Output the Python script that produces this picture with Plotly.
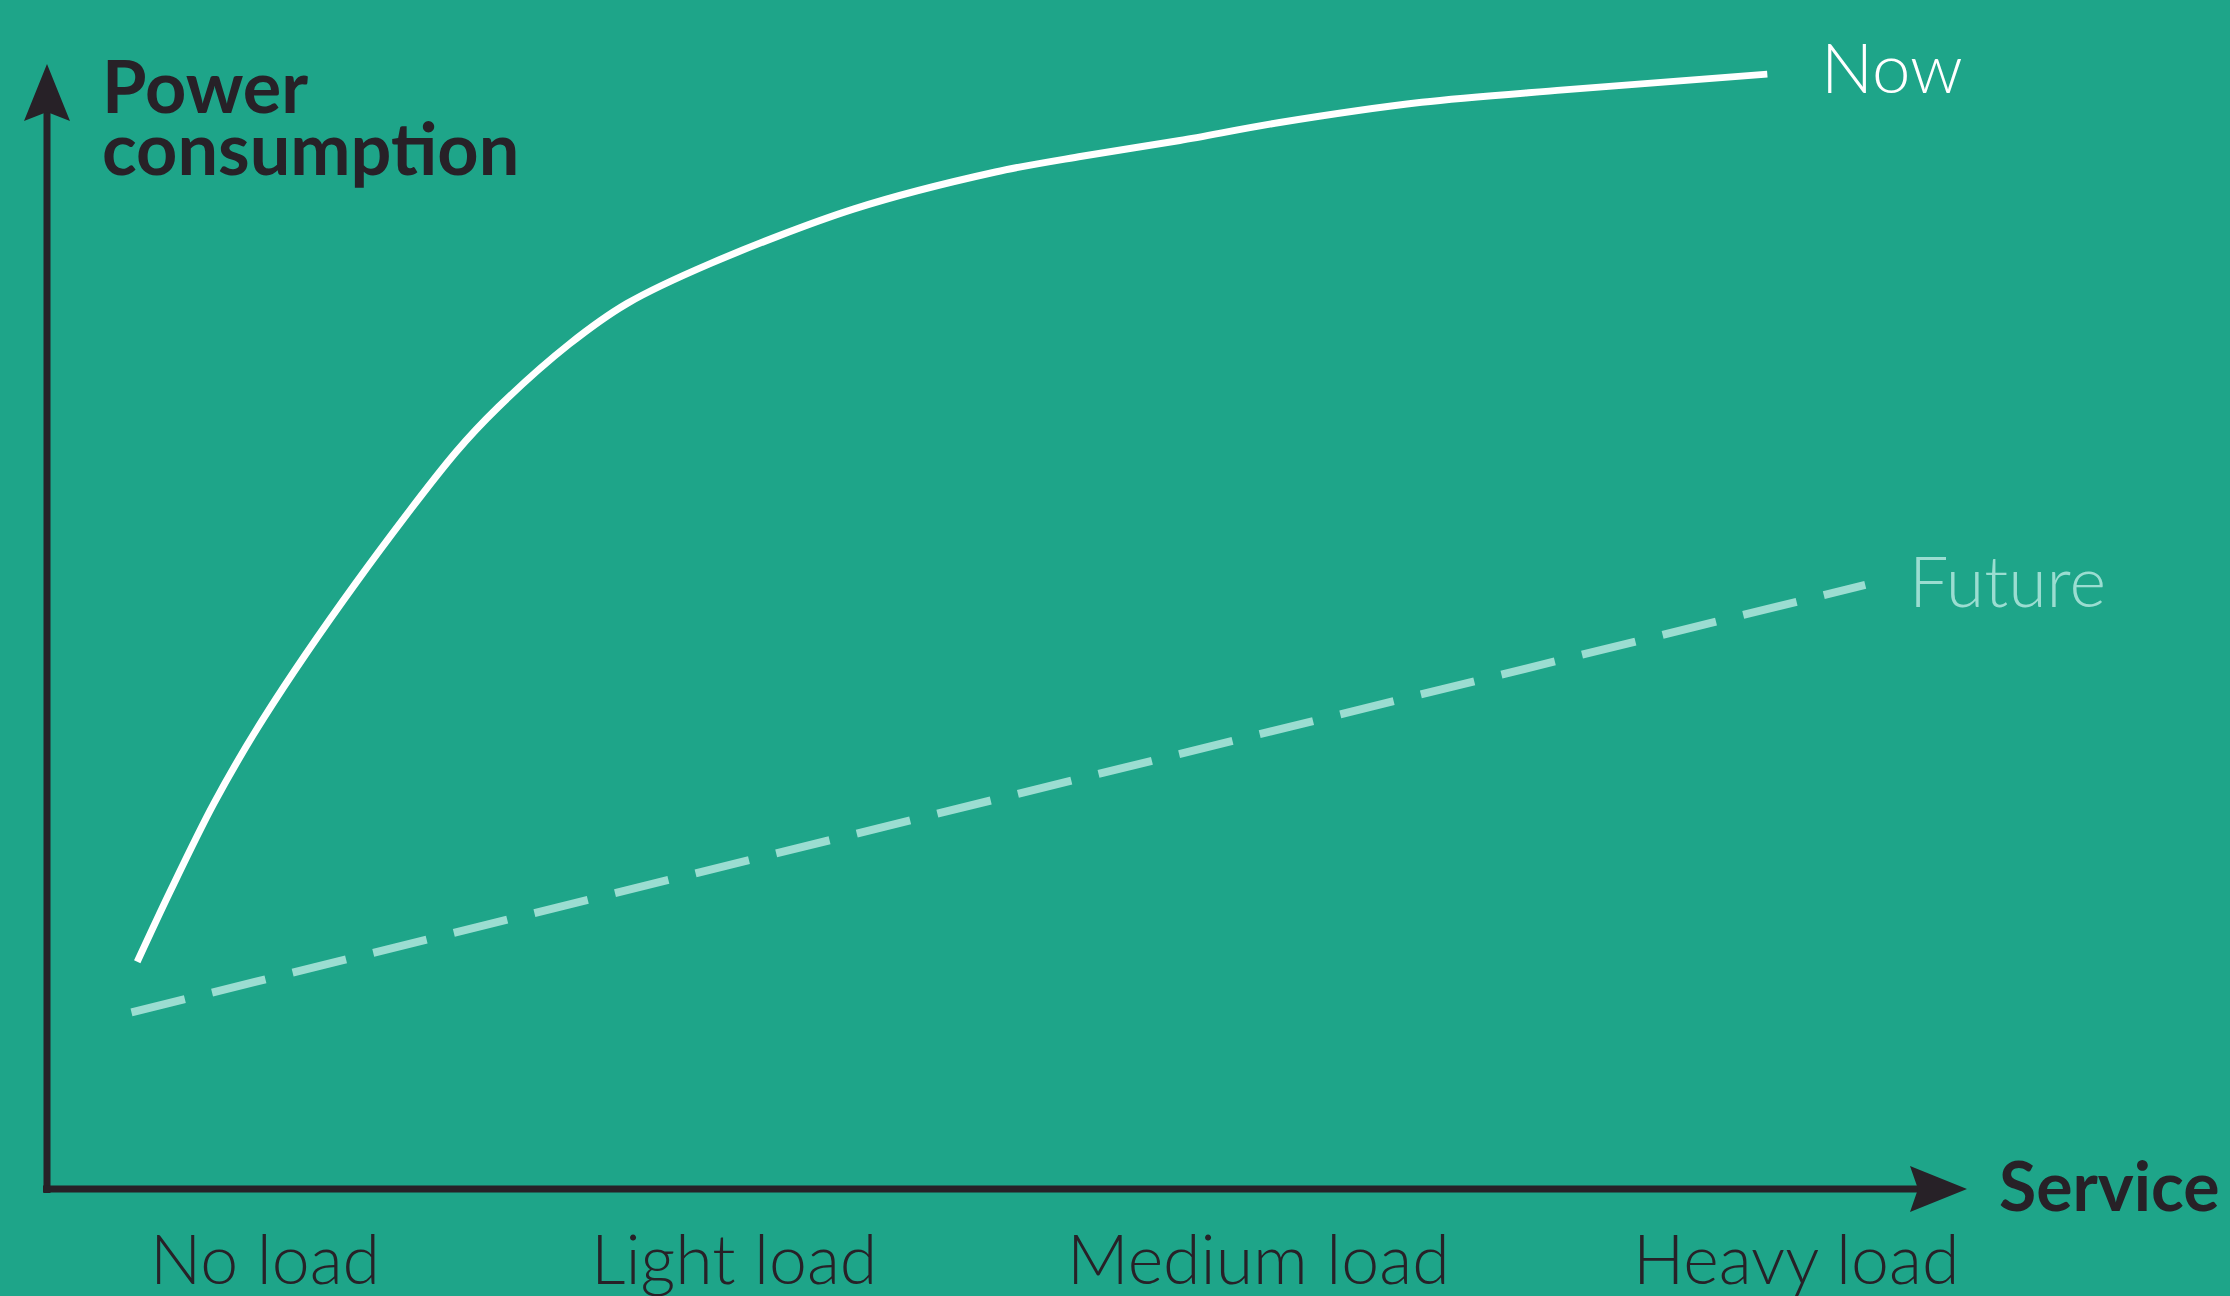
import plotly.graph_objects as go

# Service level (0-100, arrow tip = 100) vs. relative power draw (0-100)
load_now = [4.7, 6.4, 8.7, 11.3, 16.1, 21.3, 23.5, 27.2, 30.2, 34.6, 42.0,
            49.4, 53.9, 59.0, 64.2, 71.6, 79.0, 89.6]
power_now = [20.2, 26.4, 34.3, 41.9, 53.9, 65.5, 69.5, 75.1, 78.7, 82.3, 87.1,
             90.4, 91.8, 93.2, 94.8, 96.6, 97.7, 99.1]

load_future = [4.4, 94.7]
power_future = [15.7, 53.7]

tick_pos = [11.35, 35.8, 63.1, 91.1]
tick_text = ["No load", "Light load", "Medium load", "Heavy load"]

# colours
BG = "#1ea589"
DARK = "#272127"
NOW_C = "#ffffff"
FUT_C = "#9bddd1"

W, H = 2230, 1296
# pixel geometry of the axes frame
ORIGIN_X, ORIGIN_Y = 47, 1189
PX_PER_X, PX_PER_Y = 19.2, 11.25

x_range = [-ORIGIN_X / PX_PER_X, (W - ORIGIN_X) / PX_PER_X]
y_range = [(ORIGIN_Y - H) / PX_PER_Y, ORIGIN_Y / PX_PER_Y]

FONT = "Lato"

fig = go.Figure()

fig.add_trace(go.Scatter(
    x=load_future, y=power_future, mode="lines",
    line=dict(color=FUT_C, width=8, dash="55px,28px"),
    hoverinfo="skip", showlegend=False,
))
fig.add_trace(go.Scatter(
    x=load_now, y=power_now, mode="lines",
    line=dict(color=NOW_C, width=7, shape="spline", smoothing=0.9),
    hoverinfo="skip", showlegend=False,
))

# axis lines with arrowheads
hx = 23 / PX_PER_X      # half-width of y-arrow head in x units
hy = 23 / PX_PER_Y      # half-width of x-arrow head in y units
ly = 57 / PX_PER_Y      # arrow length along y
lx = 57 / PX_PER_X      # arrow length along x
ny = 9 / PX_PER_Y
nx = 8 / PX_PER_X

shapes = [
    dict(type="line", x0=0, y0=-4 / PX_PER_Y, x1=0, y1=100 - ly + ny,
         line=dict(color=DARK, width=7)),
    dict(type="line", x0=-4 / PX_PER_X, y0=0, x1=100 - lx + nx, y1=0,
         line=dict(color=DARK, width=7)),
    dict(type="path",
         path=f"M 0 100 L {hx} {100 - ly} L 0 {100 - ly + ny} L {-hx} {100 - ly} Z",
         fillcolor=DARK, line=dict(width=0)),
    dict(type="path",
         path=f"M 100 0 L {100 - lx} {hy} L {100 - lx + nx} 0 L {100 - lx} {-hy} Z",
         fillcolor=DARK, line=dict(width=0)),
]

annotations = [
    dict(x=2.75, y=98.1, text="Power", xanchor="left", yanchor="middle",
         showarrow=False, font=dict(family=FONT, size=72, color=DARK, weight=700)),
    dict(x=2.75, y=92.6, text="consumption", xanchor="left", yanchor="middle",
         showarrow=False, font=dict(family=FONT, size=72, color=DARK, weight=700)),
    dict(x=101.55, y=0.36, text="Service", xanchor="left", yanchor="middle",
         showarrow=False, font=dict(family=FONT, size=68, color=DARK, weight=700)),
    dict(x=92.3, y=99.8, text="Now", xanchor="left", yanchor="middle",
         showarrow=False, font=dict(family=FONT, size=69, color=NOW_C, weight=300)),
    dict(x=96.9, y=54.1, text="Future", xanchor="left", yanchor="middle",
         showarrow=False, font=dict(family=FONT, size=70, color=FUT_C, weight=300)),
]
for pos, txt in zip(tick_pos, tick_text):
    annotations.append(dict(
        x=pos, y=-6.1, text=txt, xanchor="center", yanchor="middle",
        showarrow=False, font=dict(family=FONT, size=68, color=DARK, weight=300)))

fig.update_layout(
    width=W, height=H,
    margin=dict(l=0, r=0, t=0, b=0),
    paper_bgcolor=BG, plot_bgcolor=BG,
    xaxis=dict(range=x_range, visible=False, fixedrange=True),
    yaxis=dict(range=y_range, visible=False, fixedrange=True),
    shapes=shapes,
    annotations=annotations,
)

fig.write_html("out.html", config={"displayModeBar": False})
